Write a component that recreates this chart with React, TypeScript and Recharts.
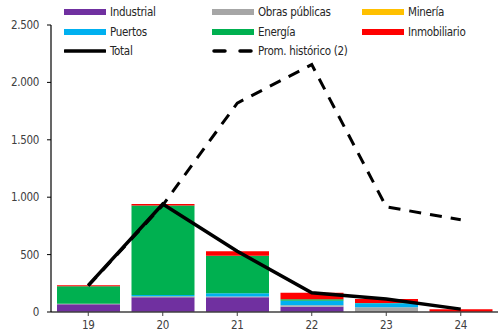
import React from "react";
import { ComposedChart, Bar, Line, XAxis, YAxis } from "recharts";

const years = ["19", "20", "21", "22", "23", "24"];
const industrial = [68, 128, 128, 46, 0, 0];
const obras = [3, 3, 8, 12, 41, 0];
const mineria = [0, 5, 0, 0, 0, 0];
const puertos = [0, 12, 27, 40, 35, 0];
const energia = [153, 780, 326, 12, 3, 0];
const inmobiliario = [10, 12, 41, 58, 34, 25];
const total = [232, 940, 530, 168, 113, 25];
const promHist = [228, 930, 1820, 2155, 916, 803];
const yTicks = [0, 500, 1000, 1500, 2000, 2500];

const data = years.map((y, i) => ({
  year: y,
  industrial: industrial[i],
  obras: obras[i],
  mineria: mineria[i],
  puertos: puertos[i],
  energia: energia[i],
  inmobiliario: inmobiliario[i],
  total: total[i],
  prom: promHist[i],
}));

const FONT = "'DejaVu Sans Condensed', 'Liberation Sans Narrow', Roboto, sans-serif";

const legendItems = [
  { label: "Industrial", color: "#7030A0", kind: "bar" },
  { label: "Obras públicas", color: "#A6A6A6", kind: "bar" },
  { label: "Minería", color: "#FFC000", kind: "bar" },
  { label: "Puertos", color: "#00B0F0", kind: "bar" },
  { label: "Energía", color: "#00B050", kind: "bar" },
  { label: "Inmobiliario", color: "#FF0000", kind: "bar" },
  { label: "Total", color: "#000", kind: "line" },
  { label: "Prom. histórico (2)", color: "#000", kind: "dash" },
];

const colX = [64, 212, 362];
const rowY = [12, 32, 51];

// leyenda encima del área del gráfico, como en el original
const ChartLegend = () => (
  <div style={{ position: "absolute", left: 0, top: 0, width: 498, height: 60, pointerEvents: "none" }}>
    {legendItems.map((it, i) => {
      const c = i % 3;
      const r = Math.floor(i / 3);
      return (
        <div
          key={it.label}
          style={{ position: "absolute", left: colX[c], top: rowY[r] - 9, height: 18, display: "flex", alignItems: "center" }}
        >
          <svg width={42} height={8}>
            {it.kind === "bar" && <rect x={0} y={1} width={42} height={6} fill={it.color} />}
            {it.kind === "line" && <line x1={1} y1={4} x2={41} y2={4} stroke="#000" strokeWidth={3.5} strokeLinecap="round" />}
            {it.kind === "dash" && <line x1={2} y1={4} x2={41} y2={4} stroke="#000" strokeWidth={3.5} strokeLinecap="round" strokeDasharray="11 15" />}
          </svg>
          <span style={{ marginLeft: 4, fontSize: 11.5, letterSpacing: -0.3, color: "#262626", fontFamily: FONT, whiteSpace: "nowrap" }}>
            {it.label}
          </span>
        </div>
      );
    })}
  </div>
);

const fmt = (v: number) => String(v).replace(/\B(?=(\d{3})+(?!\d))/g, ".");

const tickStyle = { fill: "#404040", fontSize: 11.5, fontFamily: FONT, letterSpacing: -0.3 };

export default function App() {
  return (
    <div style={{ position: "absolute", left: 0, top: 0, width: 498, height: 335, background: "#fff" }}>
      <ComposedChart
        width={498}
        height={335}
        data={data}
        margin={{ top: 25, right: 0, bottom: 0, left: 0 }}
        barCategoryGap={6}
      >
        <XAxis
          dataKey="year"
          height={23}
          tickSize={4}
          tickMargin={5}
          axisLine={{ stroke: "#404040", strokeWidth: 1.5 }}
          tickLine={{ stroke: "#404040" }}
          tick={tickStyle}
        />
        <YAxis
          domain={[0, 2500]}
          ticks={yTicks}
          width={51}
          tickSize={4}
          tickMargin={8}
          tickFormatter={fmt}
          axisLine={{ stroke: "#000", strokeWidth: 1.2 }}
          tickLine={{ stroke: "#000" }}
          tick={tickStyle}
        />
        <Bar dataKey="industrial" stackId="a" fill="#7030A0" isAnimationActive={false} />
        <Bar dataKey="obras" stackId="a" fill="#A6A6A6" isAnimationActive={false} />
        <Bar dataKey="mineria" stackId="a" fill="#FFC000" isAnimationActive={false} />
        <Bar dataKey="puertos" stackId="a" fill="#00B0F0" isAnimationActive={false} />
        <Bar dataKey="energia" stackId="a" fill="#00B050" isAnimationActive={false} />
        <Bar dataKey="inmobiliario" stackId="a" fill="#FF0000" isAnimationActive={false} />
        <Line type="linear" dataKey="total" stroke="#000" strokeWidth={3.5} dot={false} isAnimationActive={false} />
        <Line type="linear" dataKey="prom" stroke="#000" strokeWidth={3} strokeDasharray="12 9" dot={false} isAnimationActive={false} />
      </ComposedChart>
      <ChartLegend />
    </div>
  );
}
